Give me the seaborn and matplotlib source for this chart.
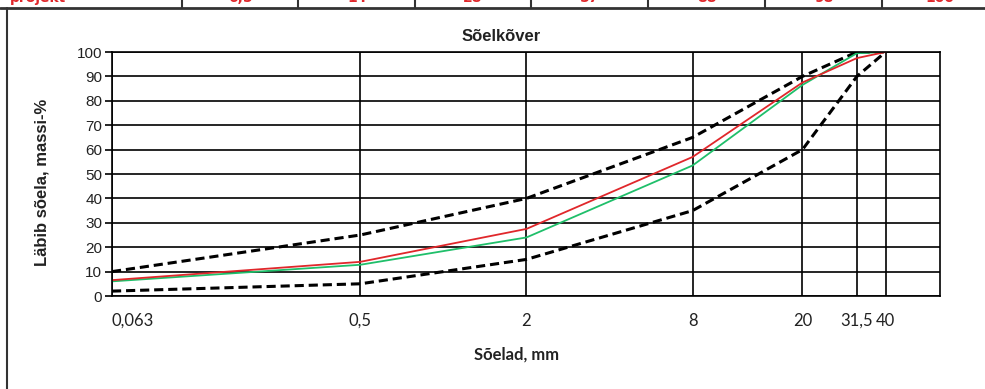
import numpy as np
import pandas as pd
import seaborn as sns
import matplotlib.pyplot as plt

# sieve sizes (mm) and passing percentages
sieves = [0.063, 0.5, 2, 8, 20, 31.5, 40]
sieve_labels = ['0,063', '0,5', '2', '8', '20', '31,5', '40']
upper_limit = [10, 25, 40, 65, 90, 100, 100]
lower_limit = [2, 5, 15, 35, 60, 90, 100]
project = [6.5, 14, 27.5, 57, 87.5, 97.5, 100]
measured = [6, 12.8, 24, 53.5, 86.5, 99.5, 100]

# clipped table row at top of the screenshot
top_row = ['projekt', '6,5', '14', '28', '57', '88', '98', '100']

sns.set_style('white')

fig = plt.figure(figsize=(9.85, 3.89), dpi=100)
ax = fig.add_axes([112 / 985, 93 / 389, 828 / 985, 244 / 389])

for vals in (upper_limit, lower_limit):
    sns.lineplot(x=sieves, y=vals, ax=ax, color='black', linewidth=2.2,
                 linestyle=(0, (3, 1.6)), sort=False)
sns.lineplot(x=sieves, y=measured, ax=ax, color='#1fbf6a', linewidth=1.3, sort=False)
sns.lineplot(x=sieves, y=project, ax=ax, color='#e0272b', linewidth=1.3, sort=False)

ax.set_xscale('log')
ax.set_xlim(0.063, 63)
ax.set_ylim(0, 100)
ax.set_xticks(sieves)
ax.set_xticklabels(sieve_labels, family='Lato', fontsize=12, color='#222222')
ax.get_xticklabels()[0].set_ha('left')
ax.minorticks_off()
ax.set_yticks(np.arange(0, 101, 10))
ax.set_yticklabels([str(v) for v in range(0, 101, 10)], family='Liberation Sans',
                   fontsize=11, color='#222222')
ax.tick_params(axis='x', length=0, pad=12)
ax.tick_params(axis='y', length=5, width=1.2, color='black', pad=2, left=True, direction='out')

ax.grid(True, color='black', linewidth=1.2)
ax.set_axisbelow(True)
for s in ax.spines.values():
    s.set_color('black')
    s.set_linewidth(1.2)

ax.set_title('Sõelkõver', family='Liberation Sans', fontweight='bold', fontsize=12,
             x=0.47, pad=8, color='#222222')
ax.set_xlabel('Sõelad, mm', family='Lato', fontweight='bold', fontsize=12, color='#222222')
ax.xaxis.set_label_coords(0.488, -0.205)
ax.set_ylabel('Läbib sõela, massi-%', family='Liberation Sans', fontweight='bold',
              fontsize=12, color='#222222')
ax.yaxis.set_label_coords(-0.075, 0.467)

# frame of the surrounding sheet
fig.add_artist(plt.Line2D([0, 1], [1 - 8 / 389] * 2, color='#333333', linewidth=2,
                          transform=fig.transFigure))
fig.add_artist(plt.Line2D([7 / 985] * 2, [0, 1 - 8 / 389], color='#333333', linewidth=1.5,
                          transform=fig.transFigure))
seps = [182, 298, 415, 531, 648, 765, 882]
for xs in seps:
    fig.add_artist(plt.Line2D([xs / 985] * 2, [1 - 8 / 389, 1], color='#333333',
                              linewidth=1.5, transform=fig.transFigure))
cell_x = [10, 240, 357, 473, 590, 707, 824, 940]
for i, t in enumerate(top_row):
    fig.text(cell_x[i] / 985, 1 - 2 / 389, t, color='#e0272b', fontsize=10,
             fontweight='bold', ha='left' if i == 0 else 'center', va='baseline')

fig.savefig('out.png', dpi=100)
